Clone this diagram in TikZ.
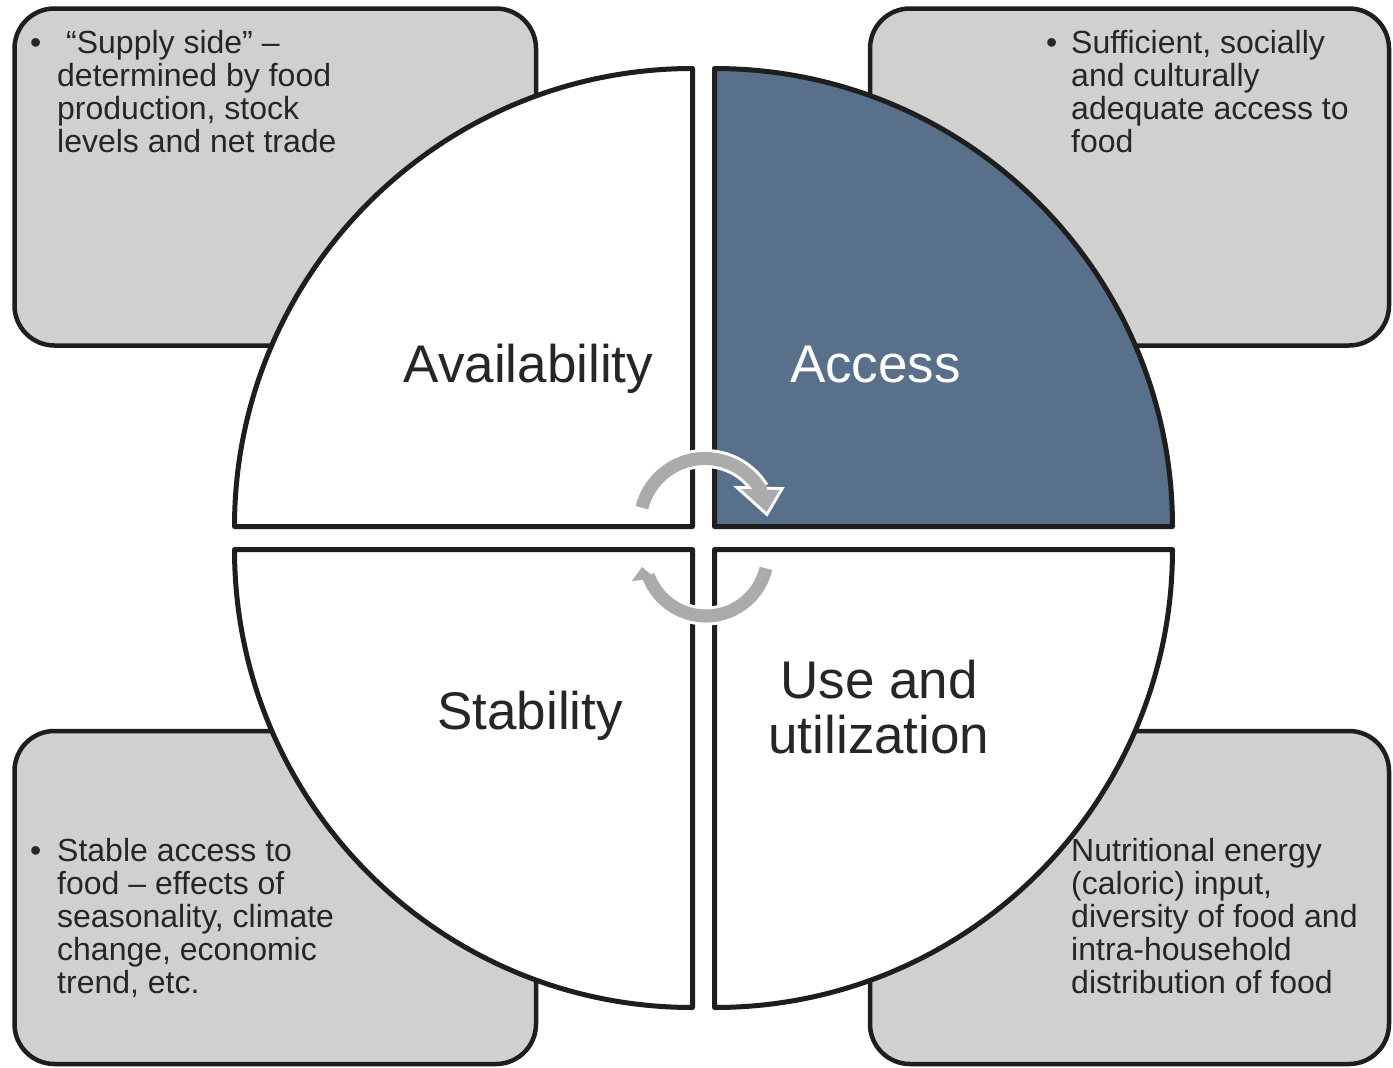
\documentclass[tikz,border=0pt]{standalone}
\usepackage{fontspec}
\setmainfont{Liberation Sans}[Ligatures=TeX]
\usepackage{tikz}

\definecolor{linedark}{HTML}{1E1E1E}
\definecolor{boxgray}{HTML}{D0D0D0}
\definecolor{accessblue}{HTML}{587089}
\definecolor{arrowgray}{HTML}{ABABAB}
\definecolor{txtdark}{HTML}{262626}

\begin{document}
\begin{tikzpicture}[x=1pt,y=-1pt,
	quad/.style={draw=linedark,line width=5pt,line join=round},
	infobox/.style={draw=linedark,fill=boxgray,line width=4.5pt,rounded corners=40pt},
	descr/.style={anchor=base west,align=left,inner sep=0pt,text=txtdark,font=\fontsize{32}{33}\selectfont},
	bulletmark/.style={anchor=base west,inner sep=0pt,text=txtdark,font=\fontsize{32}{33}\selectfont},
	dimname/.style={anchor=base,align=center,inner sep=0pt,text=txtdark,font=\fontsize{53}{55}\selectfont},
	cyclearrow/.style={draw=arrowgray,line width=13pt},
	halo/.style={draw=white,line width=19pt},
	headhalo/.style={draw=white,fill=white,line width=6pt,line join=miter}]
	\fill[white] (0,0) rectangle (1393,1068);
	\useasboundingbox (0,0) rectangle (1393,1068);

	% the four grey boxes behind the circle
	\draw[infobox] (14.5,8.5) rectangle (536,345.5);
	\draw[infobox] (870,8.5) rectangle (1389,345.5);
	\draw[infobox] (14.5,731) rectangle (536,1064);
	\draw[infobox] (870,731) rectangle (1389,1064);

	% quarters of the circle
	\draw[quad,fill=white] (692.5,526.5) -- ++(-458,0) arc[start angle=180,end angle=270,radius=458] -- cycle;
	\draw[quad,fill=accessblue] (714.5,526.5) -- ++(0,-458) arc[start angle=270,end angle=360,radius=458] -- cycle;
	\draw[quad,fill=white] (714.5,549.5) -- ++(458,0) arc[start angle=0,end angle=90,radius=458] -- cycle;
	\draw[quad,fill=white] (692.5,549.5) -- ++(0,458) arc[start angle=90,end angle=180,radius=458] -- cycle;

	% names of the quarters
	\node[dimname] (avail) at (528.5,382) {Availability};
	\node[dimname,text=white] (access) at (875.5,382) {Access};
	\node[dimname] (stab) at (530,729) {Stability};
	\node[dimname] (use) at (879,753) {Use and\\utilization};

	% texts in the boxes (nodes sit on the baseline of their last line)
	\node[bulletmark] (b1) at (30,53) {•};
	\node[descr] (supply) at (57,152) {\hspace*{9pt}“Supply side” –\\determined by food\\production, stock\\levels and net trade};
	\node[bulletmark] (b2) at (1046,53) {•};
	\node[descr] (suff) at (1071,152) {Sufficient, socially\\and culturally\\adequate access to\\food};
	\node[bulletmark] (b3) at (30,861) {•};
	\node[descr] (stable) at (57,993) {Stable access to\\food – effects of\\seasonality, climate\\change, economic\\trend, etc.};
	\node[descr] (nutri) at (1071,993) {Nutritional energy\\(caloric) input,\\diversity of food and\\intra-household\\distribution of food};

	% circular arrows in the middle
	\coordinate (topc) at (705,523.5);
	\coordinate (botc) at (706,554.5);
	\draw[headhalo] (741,489) -- (766.5,512) -- (779.5,490) -- cycle;
	\draw[halo] (topc) ++(191:65) arc[start angle=191,end angle=328,radius=65];
	\draw[cyclearrow] (topc) ++(194:65) arc[start angle=194,end angle=331,radius=65];
	\fill[arrowgray] (741,489) -- (766.5,512) -- (779.5,490) -- cycle;
	\draw[headhalo] (632,581) -- (642,567) -- (656,578.5) -- cycle;
	\draw[halo] (botc) ++(10:61.5) arc[start angle=10,end angle=158,radius=61.5];
	\draw[cyclearrow] (botc) ++(13:61.5) arc[start angle=13,end angle=160,radius=61.5];
	\fill[arrowgray] (632,581) -- (642,567) -- (656,578.5) -- cycle;
\end{tikzpicture}
\end{document}
